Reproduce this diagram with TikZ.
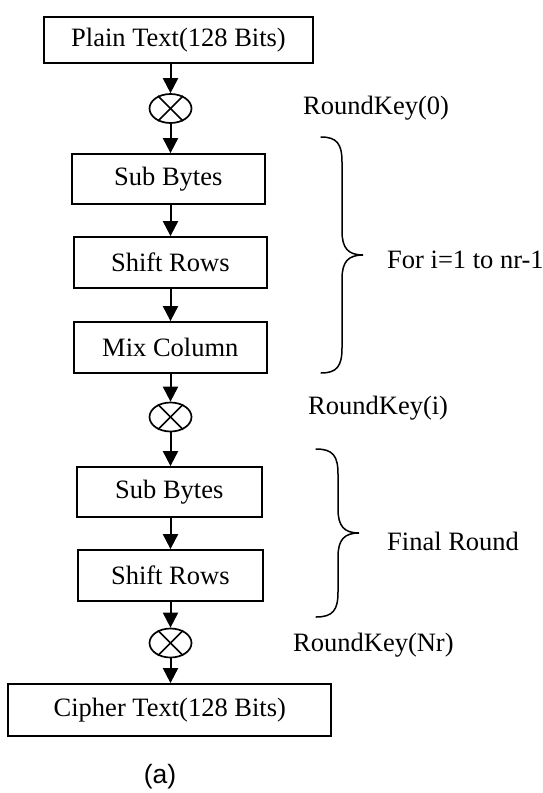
\documentclass[tikz,border=0pt]{standalone}
\usepackage{fontspec}
\setmainfont{Liberation Serif}
\newfontfamily\arialfont{Liberation Sans}
\usetikzlibrary{arrows.meta,shapes.geometric}
\tikzset{
  blk/.style={draw=black, line width=1.8pt, inner sep=0pt, font=\fontsize{26.5}{31}\selectfont},
  lbl/.style={inner sep=0pt, anchor=west, font=\fontsize{26.5}{31}\selectfont},
  xorc/.style={draw=black, line width=1.7pt, ellipse, minimum width=42pt, minimum height=29pt, inner sep=0pt},
  arr/.style={line width=2pt, -{Triangle[width=15pt,length=15pt]}},
  brc/.style={line width=1.5pt, line cap=round}
}
\begin{document}
\begin{tikzpicture}[x=1pt,y=-1pt]
\useasboundingbox (0,0) rectangle (543,793);
\node[blk, minimum width=269pt, minimum height=46pt] (plain) at (178.5,40) {Plain Text(128 Bits)};
\node[xorc] (c1) at (170.5,108.5) {};
\node[lbl] (rk0) at (303,108) {RoundKey(0)};
\node[blk, minimum width=193pt, minimum height=50pt] (sb1) at (168.3,179) {Sub Bytes};
\node[blk, minimum width=193pt, minimum height=51pt] (sr1) at (170.3,262.5) {Shift Rows};
\node[blk, minimum width=193pt, minimum height=51pt] (mc) at (170.3,347.5) {Mix Column};
\node[xorc] (c2) at (170.5,417) {};
\node[lbl] (rki) at (308,408) {RoundKey(i)};
\node[blk, minimum width=185pt, minimum height=50pt] (sb2) at (169.3,492) {Sub Bytes};
\node[blk, minimum width=185pt, minimum height=51pt] (sr2) at (170.3,575.5) {Shift Rows};
\node[xorc] (c3) at (170.5,643) {};
\node[lbl] (rknr) at (293,645) {RoundKey(Nr)};
\node[blk, minimum width=323pt, minimum height=52pt] (ct) at (169.8,710) {Cipher Text(128 Bits)};
\node[inner sep=0pt, font=\arialfont\fontsize{26.5}{31}\selectfont] (cap) at (160,777) {(a)};
\node[lbl] (loop) at (387,260) {For i=1 to nr-1};
\node[lbl] (fin) at (387,541) {Final Round};
% cross marks
\foreach \c in {c1,c2,c3}{
  \draw[line width=1.6pt] (\c.45) -- (\c.225);
  \draw[line width=1.6pt] (\c.135) -- (\c.315);
}
% connectors
\draw[arr] (plain.south -| c1) -- (c1.north);
\draw[arr] (c1.south) -- (sb1.north -| c1);
\draw[arr] (sb1.south -| c1) -- (sr1.north -| c1);
\draw[arr] (sr1.south -| c1) -- (mc.north -| c1);
\draw[arr] (mc.south -| c1) -- (c2.north);
\draw[arr] (c2.south) -- (sb2.north -| c1);
\draw[arr] (sb2.south -| c1) -- (sr2.north -| c1);
\draw[arr] (sr2.south -| c1) -- (c3.north);
\draw[arr] (c3.south) -- (ct.north -| c1);
% braces
\coordinate (b1t) at (321,137);
\coordinate (b1m) at (363,255);
\coordinate (b1b) at (321,373);
\draw[brc] (b1t) .. controls (337,137) and (342,144) .. (342,162)
  -- (342,231) .. controls (342,248) and (348,255) .. (b1m)
  .. controls (348,255) and (342,262) .. (342,279)
  -- (342,348) .. controls (342,366) and (337,373) .. (b1b);
\coordinate (b2t) at (316,449);
\coordinate (b2m) at (359,533);
\coordinate (b2b) at (316,617);
\draw[brc] (b2t) .. controls (333,449) and (338,456) .. (338,474)
  -- (338,509) .. controls (338,526) and (344,533) .. (b2m)
  .. controls (344,533) and (338,540) .. (338,557)
  -- (338,592) .. controls (338,610) and (333,617) .. (b2b);
\end{tikzpicture}
\end{document}
